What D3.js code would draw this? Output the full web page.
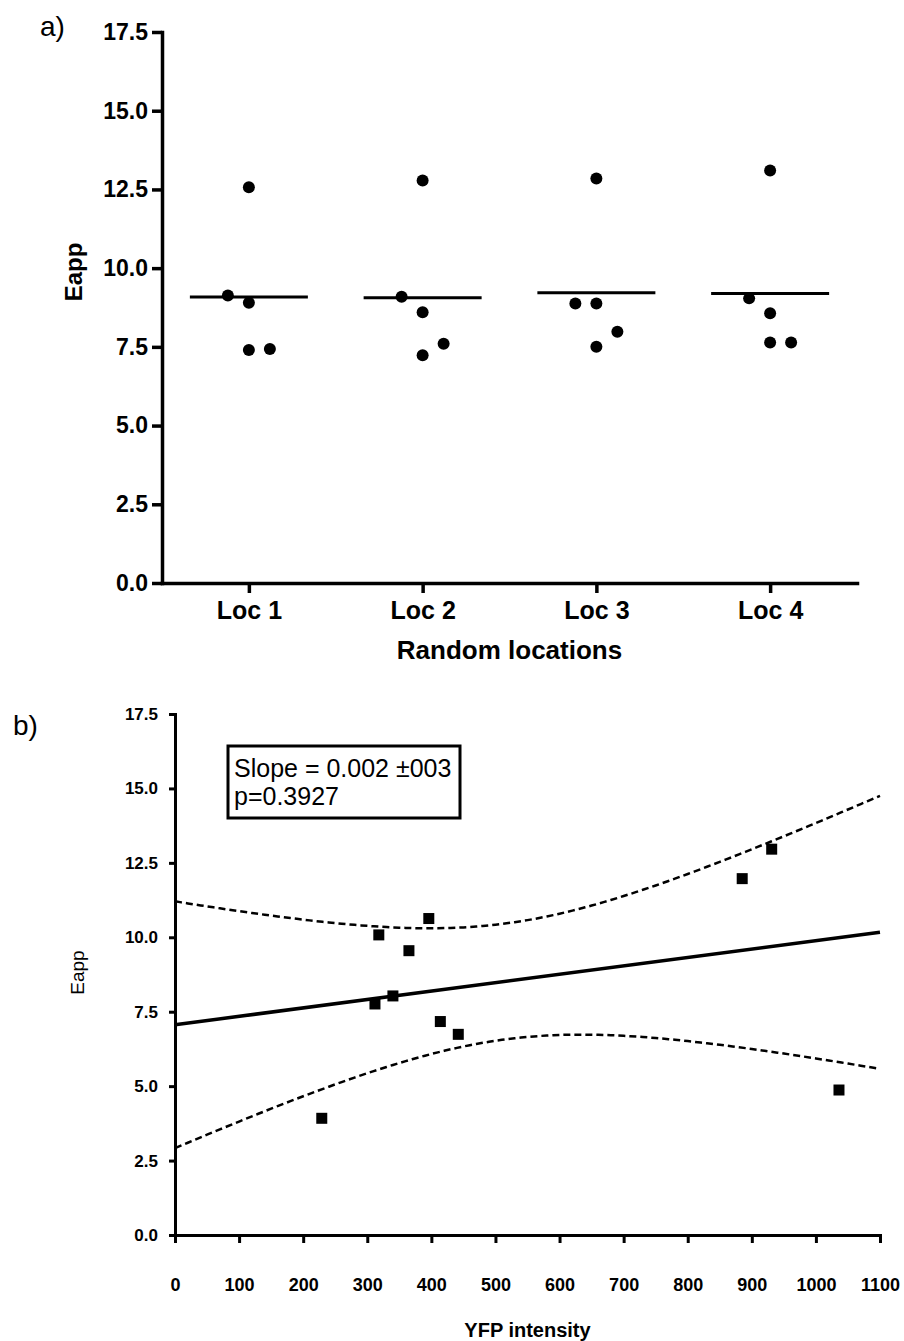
<!DOCTYPE html>
<html>
<head>
<meta charset="utf-8">
<script src="https://cdn.jsdelivr.net/npm/d3@7"></script>
<style>
  body { margin: 0; background: #fff; }
  svg { display: block; }
  text { font-family: "Liberation Sans", Arial, sans-serif; fill: #000; }
</style>
</head>
<body>
<svg></svg>
<script>
const width = 904;
const height = 1341;

// panel a: Eapp at four random locations
const locations = ["Loc 1", "Loc 2", "Loc 3", "Loc 4"];
const loc1 = [12.57, 9.13, 8.90, 7.40, 7.43];
const loc2 = [12.78, 9.09, 8.60, 7.60, 7.23];
const loc3 = [12.85, 8.88, 8.88, 7.98, 7.50];
const loc4 = [13.10, 9.04, 8.57, 7.64, 7.64];
const eappTicks = [0, 2.5, 5, 7.5, 10, 12.5, 15, 17.5];

// panel b: Eapp against YFP intensity
const yfp = [229, 312, 340, 318, 365, 396, 414, 442, 885, 931, 1036];
const eappB = [3.92, 7.76, 8.03, 10.08, 9.55, 10.63, 7.17, 6.74, 11.97, 12.96, 4.87];
const yfpTicks = [0, 100, 200, 300, 400, 500, 600, 700, 800, 900, 1000, 1100];
const slopeText = ["Slope = 0.002 \u00b1003", "p=0.3927"];
const tCrit = 2.262; // t(0.975, df = 9)

const svg = d3.select("svg")
    .attr("width", width)
    .attr("height", height);

function styleAxis(g, w) {
    g.select(".domain").attr("stroke", "#000").attr("stroke-width", w).attr("stroke-linecap", "square");
    g.selectAll(".tick line").attr("stroke", "#000").attr("stroke-width", w);
}

// ---------- panel a ----------
const a = { left: 162, right: 857, top: 32, bottom: 583 };

const xA = d3.scalePoint()
    .domain(locations)
    .range([a.left, a.right])
    .padding(0.5);

const yA = d3.scaleLinear()
    .domain([0, 17.5])
    .range([a.bottom, a.top]);

svg.append("g")
    .attr("transform", `translate(${a.left},0)`)
    .call(d3.axisLeft(yA).tickValues(eappTicks).tickFormat(d3.format(".1f")).tickSize(10).tickSizeOuter(0).tickPadding(4))
    .call(g => styleAxis(g, 3.5))
    .call(g => g.selectAll("text").attr("font-size", 23).attr("font-weight", "bold").attr("font-family", "Liberation Sans, Arial"));

svg.append("g")
    .attr("transform", `translate(0,${a.bottom})`)
    .call(d3.axisBottom(xA).tickSize(10).tickSizeOuter(0).tickPadding(8))
    .call(g => styleAxis(g, 3.5))
    .call(g => g.selectAll("text").attr("font-size", 25).attr("font-weight", "bold").attr("font-family", "Liberation Sans, Arial"));

const groups = [loc1, loc2, loc3, loc4].map((vals, i) => ({ loc: locations[i], vals }));

// spread points that sit too close vertically (scatter-dot layout)
const dotSpread = 21;
groups.forEach(gr => {
    const sorted = gr.vals.slice().sort((p, q) => p - q);
    let lastY = null, side = 1;
    gr.dots = sorted.map(v => {
        const py = yA(v);
        let off = 0;
        if (lastY !== null && Math.abs(py - lastY) < 18) {
            off = side;
            side = -side;
        } else {
            lastY = py;
        }
        return { v, off };
    });
});

const gA = svg.append("g");
groups.forEach(gr => {
    gA.selectAll(null)
        .data(gr.dots)
        .enter()
        .append("circle")
        .attr("cx", d => xA(gr.loc) + d.off * dotSpread)
        .attr("cy", d => yA(d.v))
        .attr("r", 6)
        .attr("fill", "#000");

    const m = d3.mean(gr.vals);
    gA.append("line")
        .attr("x1", xA(gr.loc) - 59)
        .attr("x2", xA(gr.loc) + 59)
        .attr("y1", yA(m))
        .attr("y2", yA(m))
        .attr("stroke", "#000")
        .attr("stroke-width", 3);
});

svg.append("text")
    .attr("x", (a.left + a.right) / 2)
    .attr("y", 659)
    .attr("text-anchor", "middle")
    .attr("font-size", 26)
    .attr("font-weight", "bold")
    .text("Random locations");

svg.append("text")
    .attr("transform", `translate(82,272) rotate(-90)`)
    .attr("text-anchor", "middle")
    .attr("font-size", 24)
    .attr("font-weight", "bold")
    .text("Eapp");

svg.append("text")
    .attr("x", 40)
    .attr("y", 36)
    .attr("font-family", "Liberation Serif, Times New Roman, serif")
    .attr("font-size", 28)
    .text("a)");

// ---------- panel b ----------
const b = { left: 175, right: 880, top: 714, bottom: 1235 };

const xB = d3.scaleLinear()
    .domain([0, 1100])
    .range([b.left, b.right]);

const yB = d3.scaleLinear()
    .domain([0, 17.5])
    .range([b.bottom, b.top]);

svg.append("g")
    .attr("transform", `translate(${b.left},0)`)
    .call(d3.axisLeft(yB).tickValues(eappTicks).tickFormat(d3.format(".1f")).tickSize(6).tickSizeOuter(0).tickPadding(11))
    .call(g => styleAxis(g, 3))
    .call(g => g.selectAll("text").attr("font-size", 17).attr("font-weight", "bold").attr("font-family", "Liberation Sans, Arial"));

svg.append("g")
    .attr("transform", `translate(0,${b.bottom})`)
    .call(d3.axisBottom(xB).tickValues(yfpTicks).tickFormat(d3.format("d")).tickSize(8).tickSizeOuter(0).tickPadding(35))
    .call(g => styleAxis(g, 3))
    .call(g => g.selectAll("text").attr("font-size", 18).attr("font-weight", "bold").attr("font-family", "Liberation Sans, Arial"));

// linear fit with 95% confidence band
function fit(xs, ys) {
    const n = xs.length;
    const mx = d3.mean(xs), my = d3.mean(ys);
    const sxx = d3.sum(xs, x => (x - mx) ** 2);
    const sxy = d3.sum(xs.map((x, i) => (x - mx) * (ys[i] - my)));
    const slope = sxy / sxx;
    const icpt = my - slope * mx;
    const sse = d3.sum(xs.map((x, i) => (ys[i] - icpt - slope * x) ** 2));
    const s = Math.sqrt(sse / (n - 2));
    return {
        at: x => icpt + slope * x,
        half: x => tCrit * s * Math.sqrt(1 / n + (x - mx) ** 2 / sxx)
    };
}

const f = fit(yfp, eappB);
const xs = d3.range(0, 1101, 10);
const line = d3.line().x(d => xB(d[0])).y(d => yB(d[1]));

svg.append("path")
    .attr("d", line([[0, f.at(0)], [1100, f.at(1100)]]))
    .attr("fill", "none")
    .attr("stroke", "#000")
    .attr("stroke-width", 3.5);

[1, -1].forEach(sgn => {
    svg.append("path")
        .attr("d", line(xs.map(x => [x, f.at(x) + sgn * f.half(x)])))
        .attr("fill", "none")
        .attr("stroke", "#000")
        .attr("stroke-width", 2.5)
        .attr("stroke-dasharray", "7,4");
});

svg.append("g")
    .selectAll("rect")
    .data(yfp.map((x, i) => [x, eappB[i]]))
    .enter()
    .append("rect")
    .attr("x", d => xB(d[0]) - 5.5)
    .attr("y", d => yB(d[1]) - 5.5)
    .attr("width", 11)
    .attr("height", 11)
    .attr("fill", "#000");

// stats box
const box = svg.append("g").attr("transform", "translate(228,746)");
box.append("rect")
    .attr("width", 232)
    .attr("height", 72)
    .attr("fill", "#fff")
    .attr("stroke", "#000")
    .attr("stroke-width", 3);
box.selectAll("text")
    .data(slopeText)
    .enter()
    .append("text")
    .attr("x", 6)
    .attr("y", (d, i) => 31 + i * 28)
    .attr("font-size", 25)
    .text(d => d);

svg.append("text")
    .attr("x", (b.left + b.right) / 2)
    .attr("y", 1337)
    .attr("text-anchor", "middle")
    .attr("font-size", 20)
    .attr("font-weight", "bold")
    .text("YFP intensity");

svg.append("text")
    .attr("transform", `translate(84,${(b.top + b.bottom) / 2 - 2}) rotate(-90)`)
    .attr("text-anchor", "middle")
    .attr("font-size", 19)
    .text("Eapp");

svg.append("text")
    .attr("x", 13)
    .attr("y", 735)
    .attr("font-family", "Liberation Serif, Times New Roman, serif")
    .attr("font-size", 28)
    .text("b)");
</script>
</body>
</html>
